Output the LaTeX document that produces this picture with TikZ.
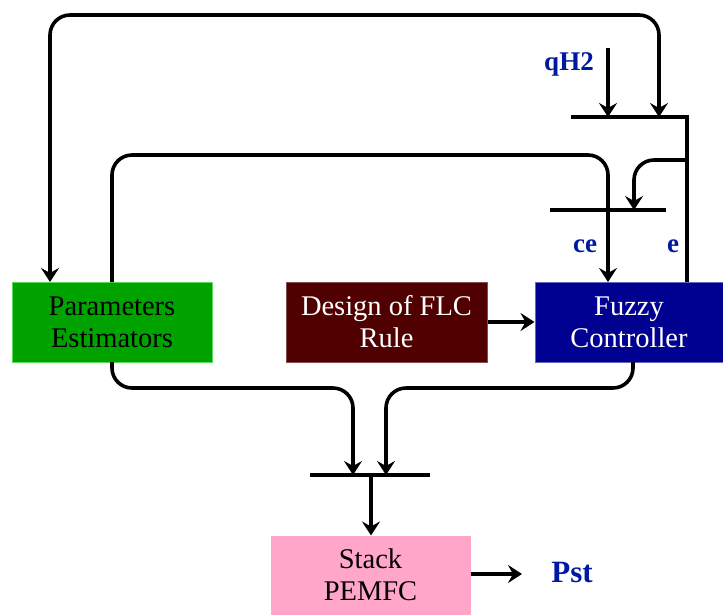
\documentclass[tikz,border=0pt]{standalone}
\usepackage{fontspec}
\setmainfont{Liberation Serif}
\newfontfamily\tms{Liberation Serif}
\usetikzlibrary{arrows.meta}
\definecolor{pgreen}{RGB}{0,162,0}
\definecolor{pgreenb}{RGB}{90,220,90}
\definecolor{dred}{RGB}{80,0,0}
\definecolor{navyb}{RGB}{0,0,145}
\definecolor{spink}{RGB}{255,166,201}
\definecolor{lblue}{RGB}{0,25,160}
\tikzset{
  blockbox/.style={rectangle, minimum height=80pt, inner sep=0pt, align=center, font=\tms\fontsize{28.5}{32}\selectfont, line width=1pt},
  wire/.style={line width=3.6pt, rounded corners=20pt},
  arr/.style={-{Stealth[length=14pt,width=18pt,inset=5pt]}},
  bararr/.style={{Stealth[length=14pt,width=18pt,inset=5pt]}-{Stealth[length=14pt,width=18pt,inset=5pt]}},
  lab/.style={text=lblue, font=\tms\bfseries\fontsize{27}{30}\selectfont, inner sep=0pt}
}
\begin{document}
\begin{tikzpicture}[x=1pt,y=-1pt]
\useasboundingbox (0,0) rectangle (723,614);
% blocks
\node[blockbox, fill=pgreen, draw=pgreenb, minimum width=200pt, text=black] (pe) at (112,322) {Parameters\\Estimators};
\node[blockbox, fill=dred, draw=dred!70!white, minimum width=201pt, text=white] (dr) at (386.5,322) {Design of FLC\\Rule};
\node[blockbox, fill=navyb, draw=navyb!60!white, minimum width=188pt, text=white] (fc) at (629,322) {Fuzzy\\Controller};
\node[blockbox, fill=spink, draw=spink, minimum width=199pt, minimum height=78pt, text=black] (st) at (370.5,575) {Stack\\PEMFC};
% labels
\node[lab] (qh) at (569,64) {qH2};
\node[lab] (ce) at (585,246) {ce};
\node[lab] (e) at (673,246) {e};
\node[lab, font=\tms\bfseries\fontsize{31}{36}\selectfont] (pst) at (572,572) {Pst};
% coordinates
\coordinate (b1l) at (571,117);
\coordinate (b1r) at (687,117);
\coordinate (b2l) at (550,210);
\coordinate (b2r) at (666,210);
\coordinate (b3l) at (310,475);
\coordinate (b3r) at (430,475);
\coordinate (qtop) at (608,48);
\coordinate (pout) at (522,574);
% top bar and e line
\draw[wire, rounded corners=0pt] (b1l) -- (b1r) -- (b1r |- fc.north);
% qH2
\draw[wire, arr] (qtop) -- (qtop |- b1l);
% top loop
\draw[wire, bararr] (50,282) -- (50,15) -- (659,15) -- (659,117);
% branch from e line
\draw[wire, arr] (687,160) -- (634,160) -- (634,210);
% lower bar
\draw[wire] (b2l) -- (b2r);
% ce line
\draw[wire, arr] (112,282) -- (112,155) -- (608,155) -- (608,282);
% bottom lines
\draw[wire, arr] (112,362) -- (112,388) -- (353,388) -- (353,475);
\draw[wire, arr] (633,362) -- (633,388) -- (386,388) -- (386,475);
\draw[wire] (b3l) -- (b3r);
\draw[wire, arr] (371,475) -- (st.north -| 371,0);
% design -> fuzzy
\draw[wire, arr] (dr.east) -- (fc.west);
% stack -> Pst
\draw[wire, arr] (st.east |- pout) -- (pout);
\end{tikzpicture}
\end{document}
